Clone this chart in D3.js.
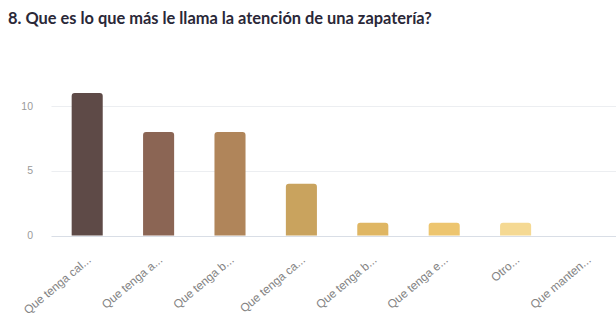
<!DOCTYPE html>
<html>
<head>
<meta charset="utf-8">
<script src="https://cdn.jsdelivr.net/npm/d3@7"></script>
<style>
  html, body { margin: 0; padding: 0; background: #fff; }
  svg { display: block; }
</style>
</head>
<body>
<svg id="chart" width="616" height="322"></svg>
<script>
// Survey question and its answers
const title = "8. Que es lo que más le llama la atención de una zapatería?";
const categories = ["Que tenga cal...", "Que tenga a...", "Que tenga b...", "Que tenga ca...",
                    "Que tenga b...", "Que tenga e...", "Otro...", "Que manten..."];
const counts = [11, 8, 8, 4, 1, 1, 1, 0];
const barColors = ["#5e4a47", "#8b6554", "#b0855a", "#c9a35e", "#dfb663", "#edc56f", "#f5d993", "#f8e4b0"];
const yTicks = [0, 5, 10];

const svg = d3.select("#chart");

svg.append("text")
  .attr("x", 8).attr("y", 24)
  .attr("font-family", "Lato, sans-serif")
  .attr("font-weight", 700)
  .attr("font-size", 16.4)
  .attr("fill", "#2a2838")
  .text(title);

const x = d3.scaleBand()
  .domain(d3.range(categories.length))
  .range([51.5, 622.7])
  .paddingInner(0.565)
  .paddingOuter(0.2825);

const y = d3.scaleLinear().domain([0, 10]).range([235.6, 106]);

// horizontal grid
svg.append("g").selectAll("line")
  .data(yTicks)
  .join("line")
  .attr("x1", 51.5).attr("x2", 616)
  .attr("y1", d => Math.round(y(d)) + 0.5).attr("y2", d => Math.round(y(d)) + 0.5)
  .attr("stroke", d => d === 0 ? "#d9dee6" : "#eceef1")
  .attr("stroke-width", 1.2);

// y tick labels
svg.append("g").selectAll("text")
  .data(yTicks)
  .join("text")
  .attr("x", 33).attr("y", d => y(d))
  .attr("dy", "0.35em")
  .attr("text-anchor", "end")
  .attr("font-family", "Liberation Sans, Arial, sans-serif")
  .attr("font-size", 10.5)
  .attr("fill", "#9a9a9a")
  .text(d => d);

// bars with rounded top corners
const r = 3;
svg.append("g").selectAll("path")
  .data(counts.map((v, i) => ({ v, i })).filter(d => d.v > 0))
  .join("path")
  .attr("fill", d => barColors[d.i])
  .attr("d", d => {
    const x0 = x(d.i), w = x.bandwidth(), y0 = y(d.v), y1 = y(0);
    return `M${x0},${y1}V${y0 + r}Q${x0},${y0} ${x0 + r},${y0}H${x0 + w - r}Q${x0 + w},${y0} ${x0 + w},${y0 + r}V${y1}Z`;
  });

// rotated category labels
svg.append("g").selectAll("text")
  .data(categories)
  .join("text")
  .attr("transform", (d, i) => `translate(${x(i) + x.bandwidth() / 2 + 2},${258}) rotate(-40)`)
  .attr("dy", "0.35em")
  .attr("text-anchor", "end")
  .attr("font-family", "Liberation Sans, Arial, sans-serif")
  .attr("font-size", 11.8)
  .attr("fill", "#838383")
  .text(d => d);
</script>
</body>
</html>
